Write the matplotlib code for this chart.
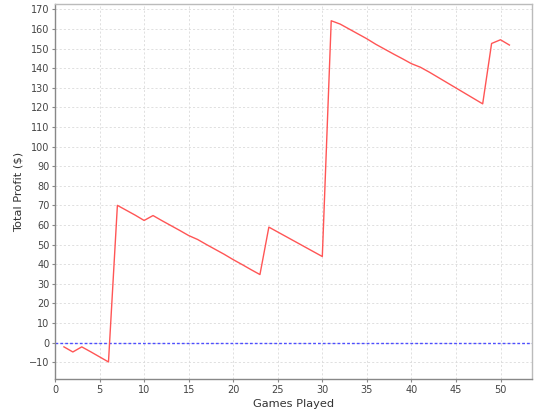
import matplotlib
matplotlib.use("Agg")
import matplotlib.pyplot as plt

games = list(range(1, 52))
profit = [-2.2, -4.8, -2.2, -4.7, -7.3, -9.9, 70.0, 67.5, 65.0, 62.3,
          64.8, 62.2, 59.7, 57.2, 54.6, 52.6, 50.0, 47.5, 45.0, 42.3,
          39.8, 37.2, 34.7, 58.9, 56.4, 53.9, 51.4, 48.9, 46.4, 43.9,
          164.2, 162.5, 160.0, 157.5, 155.0, 152.2, 149.7, 147.2, 144.8, 142.3,
          140.5, 138.0, 135.3, 132.6, 129.9, 127.2, 124.5, 121.8, 152.6, 154.5,
          151.8]
xticks = list(range(0, 51, 5))
yticks = list(range(-10, 171, 10))

fig = plt.figure(figsize=(5.4, 4.2), dpi=100)
ax = fig.add_axes([0.1019, 0.0976, 0.8827, 0.8922])
ax.set_facecolor("white")
ax.plot(games, profit, color="#FF5555", linewidth=1.0, zorder=3)
ax.axhline(0, color="#4D4DFF", linewidth=1.0, linestyle=(0, (2, 1.5)), zorder=2.5)

ax.set_xlim(0, 53.5)
ax.set_ylim(-18.6, 172.6)
ax.set_xticks(xticks)
ax.set_yticks(yticks)
ax.grid(True, color="#DADADA", linestyle=(0, (2.5, 2.5)), linewidth=0.6)
ax.set_axisbelow(True)

for s in ["top", "right"]:
    ax.spines[s].set_color("#BBBBBB")
    ax.spines[s].set_linewidth(1.0)
for s in ["left", "bottom"]:
    ax.spines[s].set_color("#888888")
    ax.spines[s].set_linewidth(1.0)
ax.tick_params(axis="both", length=2, width=0.8, color="#888888",
               labelsize=7, labelcolor="#444444", pad=2)
ax.set_xlabel("Games Played", fontsize=8.2, color="#333333", labelpad=3)
ax.set_ylabel("Total Profit ($)", fontsize=8.2, color="#333333", labelpad=4)

fig.savefig("out.png", dpi=100, facecolor="white")
